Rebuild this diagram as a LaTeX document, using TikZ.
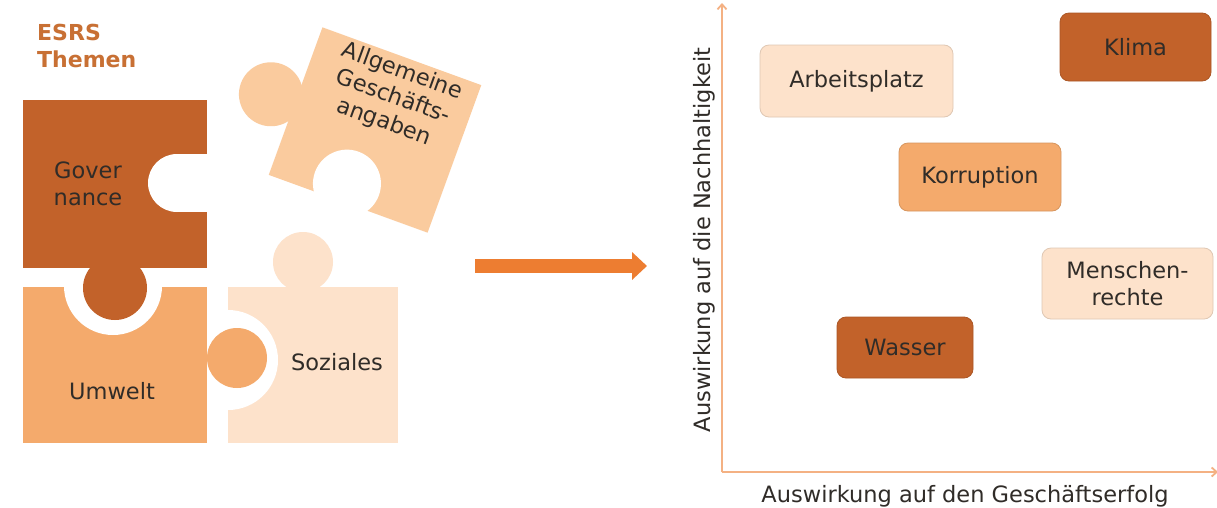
\documentclass[tikz,border=0pt]{standalone}
\usepackage{fontspec}
\setmainfont{DejaVu Sans}
\usetikzlibrary{arrows.meta}

\definecolor{tonDark}{RGB}{194,98,42}
\definecolor{tonMid}{RGB}{244,170,108}
\definecolor{tonPale}{RGB}{250,203,158}
\definecolor{tonLight}{RGB}{253,226,203}
\definecolor{arrowOrange}{RGB}{237,125,49}
\definecolor{axisOrange}{RGB}{244,177,131}
\definecolor{titleOrange}{RGB}{200,112,52}
\definecolor{labelGrey}{RGB}{48,44,40}

\tikzset{
  label/.style={font=\fontsize{22.5}{27}\selectfont, text=labelGrey, align=center, inner sep=0pt},
  topic/.style={label, fill=#1, draw=#1!88!black, line width=0.8pt, rounded corners=9pt},
  hole/.style={fill=white},
  axis/.style={draw=axisOrange, line width=1.8pt}
}

\begin{document}
\begin{tikzpicture}[x=1pt,y=-1pt]
    \useasboundingbox[fill=white] (0,0) rectangle (1217,507);

    % Title
    \node[label, font=\fontsize{22}{27}\selectfont\bfseries, text=titleOrange, align=left, anchor=north west] (titel) at (37,24) {ESRS\\Themen};

    % Soziales piece
    \fill[tonLight] (228,287) rectangle (398,443);
    \fill[tonLight] (303,262) circle[radius=30pt];
    \fill[hole] (228,360) circle[radius=50pt];

    % Umwelt piece
    \fill[tonMid] (23,287) rectangle (207,443);
    \fill[tonMid] (237,358) circle[radius=30pt];
    \fill[hole] (113,286) circle[radius=49pt];

    % Governance piece
    \fill[tonDark] (23,100) rectangle (207,268);
    \fill[tonDark] (115,288) circle[radius=32pt];
    \fill[hole] (177,183) circle[radius=29pt];
    \fill[hole] (177,154) rectangle (208,212);

    % Allgemeine piece (tilted)
    \begin{scope}[shift={(375,130)}, rotate=-20]
        \fill[tonPale] (-84.5,-78.5) rectangle (84.5,78.5);
        \fill[tonPale] (-110,2) circle[radius=32pt];
        \fill[hole] (-8,60) circle[radius=34pt];
    \end{scope}

    % Label the pieces
    \node[label] (governance) at (88,184) {Gover\\nance};
    \node[label] (umwelt) at (112,391) {Umwelt};
    \node[label] (soziales) at (337,362) {Soziales};
    \node[label, rotate=-20] (allgemeine) at (393,97) {Allgemeine\\Geschäfts-\\angaben};

    % Arrow to the matrix
    \coordinate (pfeilStart) at (475,266);
    \coordinate (pfeilEnde) at (647,266);
    \draw[arrowOrange, line width=14pt, -{Triangle[length=15pt,width=27pt]}] (pfeilStart) -- (pfeilEnde);

    % Axes
    \coordinate (ursprung) at (722,472);
    \coordinate (yEnde) at (722,3);
    \coordinate (xEnde) at (1218,472);
    \draw[axis, -{Straight Barb[length=5pt,width=9pt]}] (ursprung) -- (yEnde);
    \draw[axis, -{Straight Barb[length=5pt,width=9pt]}] (ursprung) -- (xEnde);
    \node[label, rotate=90, anchor=base] (yLabel) at (710,240) {Auswirkung auf die Nachhaltigkeit};
    \node[label, anchor=base] (xLabel) at (965,502) {Auswirkung auf den Geschäftserfolg};

    % Topics in the matrix
    \node[topic=tonLight, minimum width=193pt, minimum height=72pt] (arbeitsplatz) at (856.5,81) {Arbeitsplatz};
    \node[topic=tonDark, minimum width=151pt, minimum height=68pt] (klima) at (1135.5,47) {Klima};
    \node[topic=tonMid, minimum width=162pt, minimum height=68pt] (korruption) at (980,177) {Korruption};
    \node[topic=tonLight, minimum width=171pt, minimum height=71pt] (menschenrechte) at (1127.5,283.5) {Menschen-\\rechte};
    \node[topic=tonDark, minimum width=136pt, minimum height=61pt] (wasser) at (905,347.5) {Wasser};

\end{tikzpicture}
\end{document}
